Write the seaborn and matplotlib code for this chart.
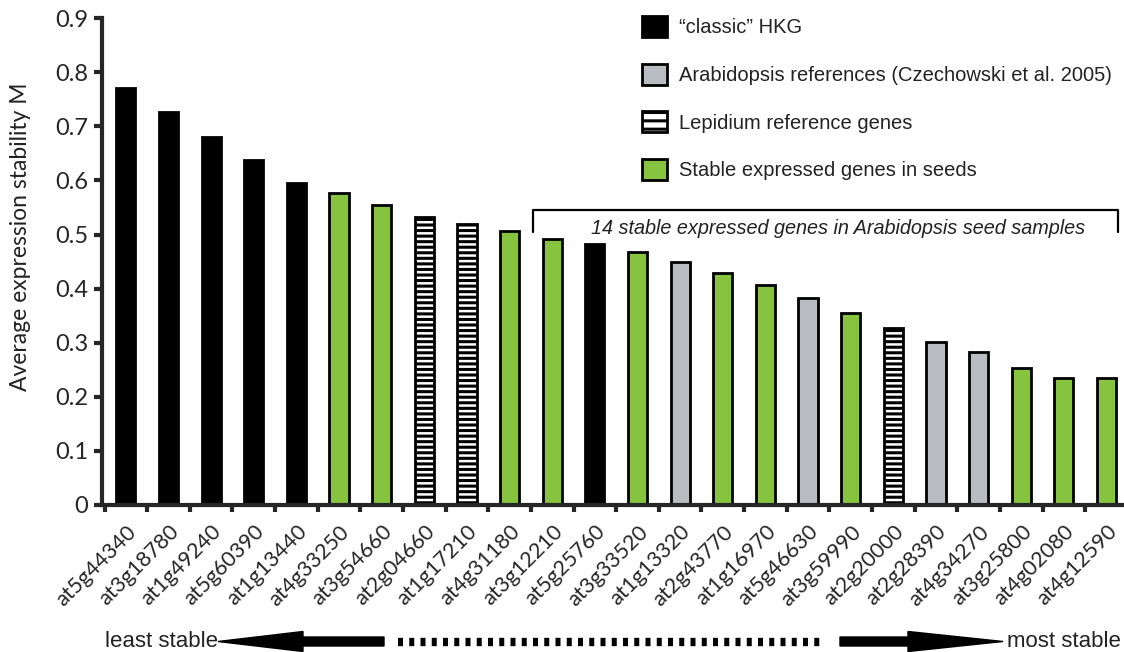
import matplotlib
matplotlib.use("Agg")
import matplotlib.pyplot as plt
import seaborn as sns
import pandas as pd
import numpy as np
from matplotlib.patches import Patch, FancyArrow
from matplotlib.lines import Line2D

# data
genes = ["at5g44340", "at3g18780", "at1g49240", "at5g60390", "at1g13440", "at4g33250",
         "at3g54660", "at2g04660", "at1g17210", "at4g31180", "at3g12210", "at5g25760",
         "at3g33520", "at1g13320", "at2g43770", "at1g16970", "at5g46630", "at3g59990",
         "at2g20000", "at2g28390", "at4g34270", "at3g25800", "at4g02080", "at4g12590"]
stability_m = [0.771, 0.726, 0.681, 0.638, 0.596, 0.577, 0.555, 0.533, 0.519, 0.506,
               0.492, 0.482, 0.467, 0.450, 0.428, 0.407, 0.382, 0.354, 0.328, 0.301,
               0.282, 0.253, 0.235, 0.235]
group = ["classic", "classic", "classic", "classic", "classic", "seed",
         "seed", "lepidium", "lepidium", "seed", "seed", "classic",
         "seed", "arabidopsis", "seed", "seed", "arabidopsis", "seed",
         "lepidium", "arabidopsis", "arabidopsis", "seed", "seed", "seed"]
group_order = ["classic", "arabidopsis", "lepidium", "seed"]
group_labels = ["\u201cclassic\u201d HKG",
                "Arabidopsis references (Czechowski et al. 2005)",
                "Lepidium reference genes",
                "Stable expressed genes in seeds"]
y_ticks = [0, 0.1, 0.2, 0.3, 0.4, 0.5, 0.6, 0.7, 0.8, 0.9]

colors = {"classic": "#000000", "arabidopsis": "#b9bcc1",
          "lepidium": "#ffffff", "seed": "#86c440"}

df = pd.DataFrame({"gene": genes, "M": stability_m, "group": group})

sns.set_style("ticks")
plt.rcParams["font.family"] = ["Lato", "DejaVu Sans"]
plt.rcParams["hatch.linewidth"] = 2.2
plt.rcParams["hatch.color"] = "black"

fig = plt.figure(figsize=(11.24, 6.52), dpi=100)
ax = fig.add_axes([0.0907, 0.2255, 0.9093, 0.7467])

sns.barplot(data=df, x="gene", y="M", hue="group", hue_order=group_order,
            palette=colors, dodge=False, width=0.45, legend=False, saturation=1,
            edgecolor="black", linewidth=2, ax=ax)

# hatch the Lepidium bars
for lvl, cont in zip(group_order, ax.containers):
    if lvl == "lepidium":
        for p in cont:
            p.set_hatch("---")

ax.set_xlim(-0.56, 23.41)
ax.set_ylim(0, 0.9)
ax.set_yticks(y_ticks)
ax.set_yticklabels(["0" if v == 0 else f"{v:.1f}" for v in y_ticks], fontsize=17)
ax.set_xticks(range(len(genes)))
ax.set_xticklabels(genes, rotation=45, ha="right", rotation_mode="anchor", fontsize=15.5)
ax.set_xticks(np.arange(-0.5, len(genes) - 1, 1), minor=True)
ax.tick_params(axis="x", which="major", length=0, pad=12)
ax.tick_params(axis="x", which="minor", length=5, width=3, direction="out")
ax.tick_params(axis="y", length=6, width=3, direction="out", pad=4)
ax.set_xlabel("")
ax.set_ylabel("Average expression stability M", fontsize=16.5, color="#222222")
ax.yaxis.set_label_coords(-0.069, 0.55)
sns.despine(ax=ax)
for s in ["left", "bottom"]:
    ax.spines[s].set_linewidth(3)

# bracket over the 14 seed genes
ax.plot([9.55, 9.55, 23.26, 23.26], [0.505, 0.545, 0.545, 0.505],
        color="black", lw=1.6, clip_on=False)
ax.text(16.7, 0.512, "14 stable expressed genes in Arabidopsis seed samples",
        style="italic", ha="center", va="center", fontsize=14.3,
        family=["Liberation Sans"], color="#222222")

# legend
handles = [Patch(facecolor=colors[g], edgecolor="black", linewidth=2,
                 hatch="--" if g == "lepidium" else None) for g in group_order]
fig.legend(handles, group_labels, loc="upper left",
           bbox_to_anchor=(642 / 1124, 1 - 16 / 652), frameon=False,
           prop={"family": "Liberation Sans", "size": 14.5},
           handlelength=1.25, handleheight=1.25, labelspacing=1.3,
           handletextpad=0.6, borderpad=0, borderaxespad=0, labelcolor="#222222")

# stability arrows at the bottom (figure inches)
yb = 0.105
fig.add_artist(FancyArrow(3.84, yb, -1.66, 0, width=0.09, head_width=0.2,
                          head_length=0.85, length_includes_head=True,
                          color="black", transform=fig.dpi_scale_trans))
fig.add_artist(FancyArrow(8.40, yb, 1.63, 0, width=0.09, head_width=0.2,
                          head_length=0.95, length_includes_head=True,
                          color="black", transform=fig.dpi_scale_trans))
fig.add_artist(Line2D([3.98, 8.22], [yb, yb], color="black", linewidth=6,
                      dashes=(0.6, 0.75), solid_capstyle="butt",
                      transform=fig.dpi_scale_trans))
fig.text(2.18, yb, "least stable", ha="right", va="center", fontsize=16,
         family=["Liberation Sans"], transform=fig.dpi_scale_trans, color="#222222")
fig.text(10.07, yb, "most stable", ha="left", va="center", fontsize=16,
         family=["Liberation Sans"], transform=fig.dpi_scale_trans, color="#222222")

fig.savefig("out.png", dpi=100)
